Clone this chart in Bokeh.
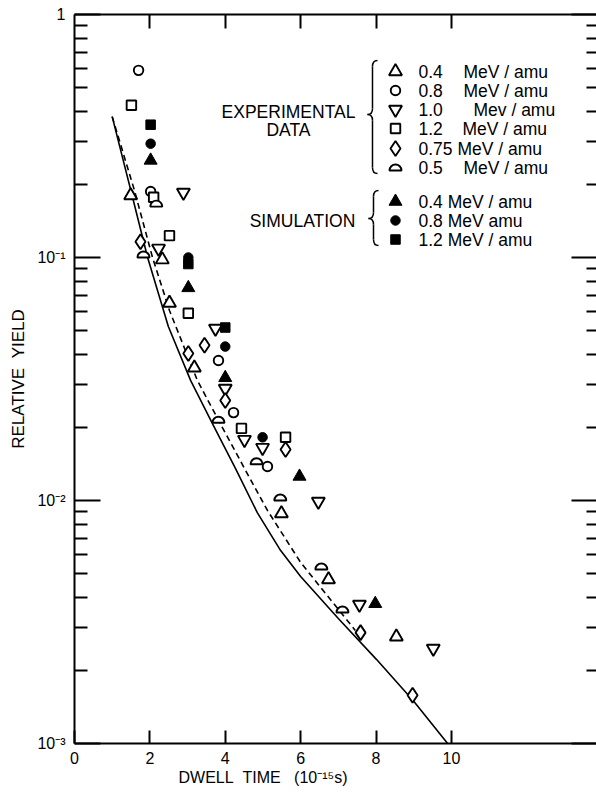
import math
from bokeh.plotting import figure
from bokeh.models import FixedTicker, LinearAxis, LogAxis, Label, Range1d, Title
from bokeh.embed import file_html
from bokeh.resources import INLINE

# ---------------- data ----------------
solid_x = [1.0, 1.49, 1.94, 2.49, 3.08, 3.66, 4.27, 4.85, 5.47, 6.0, 7.0, 8.01, 8.99, 9.9]
solid_y = [0.380, 0.190, 0.100, 0.0520, 0.0312, 0.0207, 0.01355, 0.00892, 0.00622,
           0.00487, 0.00327, 0.00222, 0.00150, 0.00100]
dashed_x = [1.0, 1.59, 2.07, 2.52, 3.26, 3.87, 4.51, 5.12, 6.0, 7.45]
dashed_y = [0.380, 0.189, 0.100, 0.0605, 0.0312, 0.0207, 0.01355, 0.0091, 0.00556, 0.00292]

exp04_x = [1.49, 2.33, 2.52, 3.18, 5.49, 6.74, 8.54]
exp04_y = [0.180, 0.098, 0.065, 0.0352, 0.00884, 0.00473, 0.00275]
exp08_x = [1.70, 2.02, 3.82, 4.22, 5.12]
exp08_y = [0.589, 0.187, 0.0377, 0.0230, 0.0138]
exp10_x = [2.89, 2.23, 3.74, 4.00, 4.51, 4.99, 6.47, 7.56, 9.52]
exp10_y = [0.185, 0.109, 0.051, 0.0289, 0.0178, 0.0165, 0.0099, 0.00373, 0.00246]
exp12_x = [1.51, 2.10, 2.52, 3.02, 4.43, 5.60]
exp12_y = [0.423, 0.177, 0.123, 0.059, 0.0198, 0.0182]
exp075_x = [1.75, 3.02, 3.45, 4.00, 5.60, 7.59, 8.97]
exp075_y = [0.116, 0.0403, 0.0435, 0.0258, 0.0162, 0.00286, 0.00158]
exp05_x = [1.83, 2.17, 3.82, 4.83, 5.46, 6.55, 7.11]
exp05_y = [0.100, 0.162, 0.0209, 0.0141, 0.0100, 0.0052, 0.00346]

sim04_x = [2.02, 3.02, 4.00, 5.97, 7.98]
sim04_y = [0.251, 0.075, 0.032, 0.01256, 0.00376]
sim08_x = [2.02, 3.02, 4.00, 4.99]
sim08_y = [0.294, 0.100, 0.043, 0.0182]
sim12_x = [2.02, 3.02, 4.00]
sim12_y = [0.352, 0.094, 0.0515]

x_ticks = [0, 2, 4, 6, 8, 10]
top_ticks = [2, 4, 6, 8, 10]
y_decades = [0.001, 0.01, 0.1, 1.0]
y_tick_labels = {0.001: "10⁻³", 0.01: "10⁻²", 0.1: "10⁻¹", 1.0: "1"}
y_minor = [m * d for d in [0.001, 0.01, 0.1] for m in range(2, 10)]

x_title = "DWELL\u00a0\u00a0TIME\u00a0\u00a0\u00a0(10⁻¹⁵s)"
y_title = "RELATIVE\u00a0\u00a0YIELD"
exp_values = ["0.4", "0.8", "1.0", "1.2", "0.75 MeV / amu", "0.5"]
exp_units = ["MeV / amu", "MeV / amu", "Mev / amu", "MeV / amu", "", "MeV / amu"]
sim_labels = ["0.4 MeV / amu", "0.8 MeV amu", "1.2 MeV / amu"]

FONT = "Liberation Sans"
X_MAX = 13.85

# ---------------- figure ----------------
p = figure(width=596, height=793, x_range=Range1d(0, X_MAX),
           y_range=Range1d(0.001, 1.0), y_axis_type="log",
           output_backend="svg", toolbar_location=None,
           min_border_left=74, min_border_right=0, min_border_top=14,
           min_border_bottom=50, outline_line_color=None)
p.grid.visible = False

# pixel -> data helpers for the hand-placed key (layout only)
def dx(px):
    return (px - 74) / 37.69

def dy(py):
    return 10 ** ((743 - py) / 243.0 - 3)

xa = p.xaxis[0]
xa.ticker = FixedTicker(ticks=x_ticks)
xa.major_tick_in = 13
xa.major_tick_out = 0
xa.minor_tick_line_color = None
xa.axis_line_width = 2
xa.major_tick_line_width = 2
xa.major_label_text_font = FONT
xa.major_label_text_font_size = "16px"
xa.major_label_text_color = "black"
xa.major_label_standoff = 8

# axis title, placed like the reference (starts under x = 2.8)
p.add_layout(Title(text=x_title, align="left", offset=104, text_font=FONT,
                   text_font_size="16px", text_font_style="normal",
                   text_color="black", standoff=0), "below")

ya = p.yaxis[0]
ya.ticker = FixedTicker(ticks=y_decades, minor_ticks=y_minor)
ya.major_tick_in = 26
ya.major_tick_out = 0
ya.minor_tick_in = 13
ya.minor_tick_out = 0
ya.axis_line_width = 2
ya.major_tick_line_width = 2
ya.minor_tick_line_width = 2
ya.major_label_overrides = y_tick_labels
ya.major_label_text_font = FONT
ya.major_label_text_font_size = "16px"
ya.major_label_text_color = "black"
ya.major_label_standoff = 9
ya.axis_label = y_title
ya.axis_label_text_font = FONT
ya.axis_label_text_font_size = "17px"
ya.axis_label_text_font_style = "normal"
ya.axis_label_text_color = "black"
ya.axis_label_standoff = 6

top = LinearAxis(ticker=FixedTicker(ticks=top_ticks), major_tick_in=14,
                 major_tick_out=0, minor_tick_line_color=None,
                 major_label_overrides={t: "" for t in top_ticks},
                 major_label_text_font_size="1px", major_label_standoff=0,
                 axis_line_width=2, major_tick_line_width=2)
p.add_layout(top, "above")

right = LogAxis(ticker=FixedTicker(ticks=y_decades, minor_ticks=y_minor),
                major_tick_in=25, major_tick_out=0, minor_tick_in=10,
                minor_tick_out=0,
                major_label_overrides={t: "" for t in y_decades},
                major_label_text_font_size="1px",
                major_label_standoff=0, axis_line_color=None,
                major_tick_line_width=2, minor_tick_line_width=2)
p.add_layout(right, "right")

# ---------------- curves ----------------
p.line(solid_x, solid_y, line_color="black", line_width=1.6)
p.line(dashed_x, dashed_y, line_color="black", line_width=1.6, line_dash="6 4")

# ---------------- markers ----------------
LW = 1.9
def open_marker(xs, ys, marker, size):
    p.scatter(xs, ys, marker=marker, size=size, fill_color="white",
              line_color="black", line_width=LW)

def filled_marker(xs, ys, marker, size):
    p.scatter(xs, ys, marker=marker, size=size, fill_color="black",
              line_color="black", line_width=1)

def half_circle(xs, ys):
    p.wedge(xs, ys, radius=6, radius_units="screen", start_angle=0,
            end_angle=math.pi, fill_color="white", line_color="black",
            line_width=LW)

open_marker(exp04_x, exp04_y, "triangle", 13)
open_marker(exp08_x, exp08_y, "circle", 9.5)
open_marker(exp10_x, exp10_y, "inverted_triangle", 13)
open_marker(exp12_x, exp12_y, "square", 9.5)
open_marker(exp075_x, exp075_y, "diamond", 15)
half_circle(exp05_x, exp05_y)
filled_marker(sim04_x, sim04_y, "triangle", 13)
filled_marker(sim08_x, sim08_y, "circle", 9.5)
filled_marker(sim12_x, sim12_y, "square", 9.5)

# ---------------- key ----------------
KEY_SIZE = "17.5px"
def add_text(px, py, text, align="left", size=KEY_SIZE):
    p.add_layout(Label(x=dx(px), y=dy(py), text=text, text_font=FONT,
                       text_font_size=size, text_align=align,
                       text_baseline="middle", text_color="black"))

def brace(x_end, x_spine, x_tip, y_top, y_bot, y_mid):
    r = 6
    for (a, b) in [((x_spine, y_top + r), (x_spine, y_mid - r)),
                   ((x_spine, y_mid + r), (x_spine, y_bot - r))]:
        p.line([dx(a[0]), dx(b[0])], [dy(a[1]), dy(b[1])],
               line_color="black", line_width=1.5)
    quads = [((x_end, y_top), (x_spine, y_top + r), (x_spine, y_top)),
             ((x_spine, y_mid - r), (x_tip, y_mid), (x_spine, y_mid)),
             ((x_tip, y_mid), (x_spine, y_mid + r), (x_spine, y_mid)),
             ((x_spine, y_bot - r), (x_end, y_bot), (x_spine, y_bot))]
    p.quadratic(x0=[dx(q[0][0]) for q in quads], y0=[dy(q[0][1]) for q in quads],
                x1=[dx(q[1][0]) for q in quads], y1=[dy(q[1][1]) for q in quads],
                cx=[dx(q[2][0]) for q in quads], cy=[dy(q[2][1]) for q in quads],
                line_color="black", line_width=1.5)

exp_rows = [71, 90, 109, 128, 148, 167]
unit_x = [463, 463, 473, 462, 0, 463]
sim_rows = [201, 220, 239]
mx = 395
exp_markers = ["triangle", "circle", "inverted_triangle", "square", "diamond", None]
exp_sizes = [13, 9.5, 13, 9.5, 15, None]
for py, mk, sz, val, unit, ux in zip(exp_rows, exp_markers, exp_sizes,
                                     exp_values, exp_units, unit_x):
    if mk is None:
        half_circle([dx(mx)], [dy(py + 3)])
    else:
        open_marker([dx(mx)], [dy(py)], mk, sz)
    add_text(418, py, val)
    if unit:
        add_text(ux, py, unit)

for py, mk, txt in zip(sim_rows, ["triangle", "circle", "square"], sim_labels):
    filled_marker([dx(mx)], [dy(py)], mk, 13 if mk == "triangle" else 9.5)
    add_text(418, py, txt)

add_text(288, 111, "EXPERIMENTAL", align="center")
add_text(288, 129, "DATA", align="center")
add_text(302, 220, "SIMULATION", align="center")
brace(377, 372, 367, 60, 173, 114)
brace(378, 373, 368, 190, 245, 218)

open("out.html", "w").write(file_html(p, INLINE))
